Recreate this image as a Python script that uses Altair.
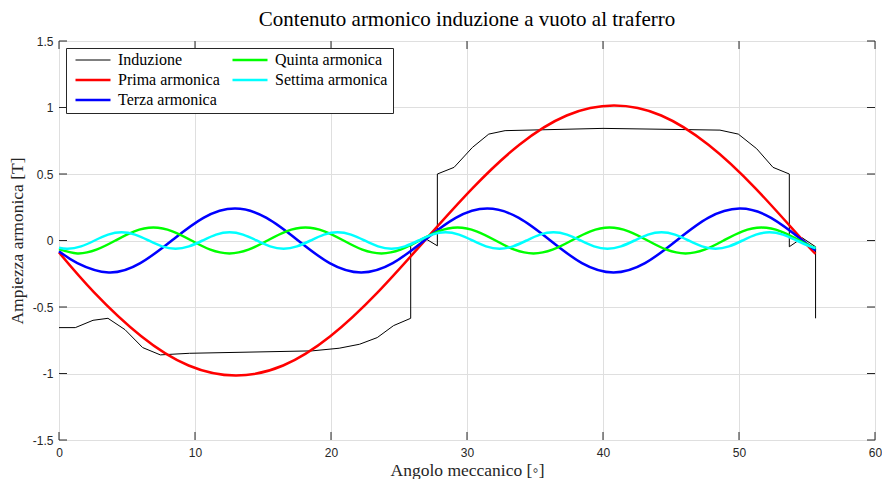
import altair as alt
import pandas as pd

# ---- data ----
ind_x = [0, 1.2, 2.5, 3.6, 4.85, 6.15, 7.45, 9.6, 18.6, 20.6, 22.1, 23.4, 24.6, 25.86, 25.86, 26.85,
         27.82, 27.82, 29.05, 30.4, 31.6, 32.8, 40.0, 48.6, 49.95, 51.3, 52.5, 53.7, 53.7, 54.65, 55.63, 55.63]
ind_y = [-0.655, -0.655, -0.60, -0.585, -0.67, -0.805, -0.86, -0.848, -0.83, -0.81, -0.78, -0.73, -0.64,
         -0.585, -0.04, 0.02, -0.04, 0.50, 0.55, 0.70, 0.80, 0.826, 0.843, 0.83, 0.80, 0.69, 0.55, 0.50,
         -0.047, 0.02, -0.047, -0.585]

red_x = [0, 2.58, 6.05, 9.53, 13.0, 16.48, 19.95, 23.43, 26.9, 30.38, 33.85, 37.33, 40.8, 44.28, 47.75,
         51.23, 54.7, 55.63]
red_y = [-0.09, -0.39, -0.72, -0.94, -1.015, -0.94, -0.72, -0.39, 0.0, 0.39, 0.72, 0.94, 1.015, 0.94, 0.72,
         0.39, 0.0, -0.1]

blue_x = [0, 1.35, 3.66, 5.98, 8.30, 10.62, 12.94, 15.26, 17.58, 19.90, 22.22, 24.54, 26.85, 29.17, 31.49,
          33.81, 36.13, 38.45, 40.77, 43.09, 45.41, 47.73, 50.04, 52.36, 54.68, 55.63]
blue_y = [-0.08, -0.17, -0.24, -0.17, 0.0, 0.17, 0.24, 0.17, 0.0, -0.17, -0.24, -0.17, 0.0, 0.17, 0.24,
          0.17, 0.0, -0.17, -0.24, -0.17, 0.0, 0.17, 0.24, 0.17, 0.0, -0.075]

green_x = [0, 1.35, 2.75, 4.15, 5.54, 6.94, 8.34, 9.74, 11.13, 12.53, 13.93, 15.33, 16.72, 18.12, 19.52,
           20.92, 22.31, 23.71, 25.11, 26.51, 27.90, 29.30, 30.70, 32.10, 33.49, 34.89, 36.29, 37.69, 39.08,
           40.48, 41.88, 43.28, 44.67, 46.07, 47.47, 48.87, 50.26, 51.66, 53.06, 54.46, 55.63]
green_y = [-0.065, -0.097, -0.069, 0.0, 0.069, 0.097, 0.069, 0.0, -0.069, -0.097, -0.069, 0.0, 0.069, 0.097,
           0.069, 0.0, -0.069, -0.097, -0.069, 0.0, 0.069, 0.097, 0.069, 0.0, -0.069, -0.097, -0.069, 0.0,
           0.069, 0.097, 0.069, 0.0, -0.069, -0.097, -0.069, 0.0, 0.069, 0.097, 0.069, 0.0, -0.06]

cyan_x = [0, 0.63, 1.62, 2.62, 3.61, 4.60, 5.59, 6.59, 7.58, 8.57, 9.56, 10.56, 11.55, 12.54, 13.53, 14.53,
          15.52, 16.51, 17.50, 18.50, 19.49, 20.48, 21.47, 22.47, 23.46, 24.45, 25.44, 26.44, 27.43, 28.42,
          29.41, 30.41, 31.40, 32.39, 33.38, 34.38, 35.37, 36.36, 37.35, 38.35, 39.34, 40.33, 41.32, 42.32,
          43.31, 44.30, 45.29, 46.29, 47.28, 48.27, 49.26, 50.26, 51.25, 52.24, 53.23, 54.23, 55.22, 55.63]
cyan_y = [-0.054,
          -0.062, -0.044, 0.0, 0.044, 0.062, 0.044, 0.0, -0.044,
          -0.062, -0.044, 0.0, 0.044, 0.062, 0.044, 0.0, -0.044,
          -0.062, -0.044, 0.0, 0.044, 0.062, 0.044, 0.0, -0.044,
          -0.062, -0.044, 0.0, 0.044, 0.062, 0.044, 0.0, -0.044,
          -0.062, -0.044, 0.0, 0.044, 0.062, 0.044, 0.0, -0.044,
          -0.062, -0.044, 0.0, 0.044, 0.062, 0.044, 0.0, -0.044,
          -0.062, -0.044, 0.0, 0.044, 0.062, 0.044, 0.0, -0.044,
          -0.056]

series_names = ["Induzione", "Prima armonica", "Terza armonica", "Quinta armonica", "Settima armonica"]
series_colors = ["#000000", "#ff0000", "#0000ff", "#00ff00", "#00ffff"]
series_widths = [1, 2.5, 2.5, 2.5, 2.5]

x_ticks = [0, 10, 20, 30, 40, 50, 60]
y_ticks = [-1.5, -1, -0.5, 0, 0.5, 1, 1.5]

W, H = 816, 399
SERIF = "Liberation Serif"
SANS = "Liberation Sans"
AX = "#262626"


def frame(name, xs, ys):
    return pd.DataFrame({"x": xs, "y": ys, "serie": name, "i": list(range(len(xs)))})


df = pd.concat([
    frame(series_names[0], ind_x, ind_y),
    frame(series_names[1], red_x, red_y),
    frame(series_names[2], blue_x, blue_y),
    frame(series_names[3], green_x, green_y),
    frame(series_names[4], cyan_x, cyan_y),
], ignore_index=True)

x_axis = alt.Axis(values=x_ticks, title="Angolo meccanico [◦]", ticks=False, domain=False,
                  grid=True, gridColor="#dfdfdf", labelFlush=False, labelOverlap=False,
                  labelFont=SANS, labelFontSize=12, labelColor=AX, labelPadding=7,
                  titleFont=SERIF, titleFontSize=17.5, titleFontWeight="normal", titleColor=AX,
                  titleY=30, titleBaseline="middle")
y_axis = alt.Axis(values=y_ticks, title="Ampiezza armonica [T]", ticks=False, domain=False,
                  grid=True, gridColor="#dfdfdf", labelFlush=False, labelOverlap=False,
                  labelExpr="toString(datum.value)",
                  labelFont=SANS, labelFontSize=12, labelColor=AX, labelPadding=6,
                  titleFont=SERIF, titleFontSize=17.5, titleFontWeight="normal", titleColor=AX,
                  titleX=-42, titleY=H / 2, titleAngle=-90, titleBaseline="middle")

x_enc = alt.X("x:Q", scale=alt.Scale(domain=[0, 60], nice=False, zero=False), axis=x_axis)
y_enc = alt.Y("y:Q", scale=alt.Scale(domain=[-1.5, 1.5], nice=False, zero=False), axis=y_axis)

leg = alt.Legend(title=None, orient="none", legendX=7, legendY=7, columns=2,
                 symbolType="stroke", symbolSize=1225, labelFont=SERIF, labelFontSize=16,
                 labelColor="black", labelOffset=6, padding=5, symbolOffset=3, clipHeight=14,
                 rowPadding=4, columnPadding=8, strokeColor=AX, fillColor="white",
                 cornerRadius=0, labelLimit=0)

color_enc = alt.Color("serie:N", scale=alt.Scale(domain=series_names, range=series_colors), legend=leg)
width_enc = alt.StrokeWidth("serie:N", scale=alt.Scale(type="ordinal", domain=series_names,
                                                       range=series_widths), legend=leg)

base = alt.Chart(df).encode(x=x_enc, y=y_enc, color=color_enc, strokeWidth=width_enc, order=alt.Order("i:Q"))

layers = []
for k, name in enumerate(series_names):
    interp = "linear" if k == 0 else "natural"
    layers.append(base.transform_filter(alt.datum.serie == name).mark_line(interpolate=interp))

xt = pd.DataFrame({"x": x_ticks})
yt = pd.DataFrame({"y": y_ticks})
tick_style = dict(color=AX, strokeWidth=1)
ticks = [
    alt.Chart(xt).mark_rule(**tick_style).encode(x=x_enc, y=alt.value(H), y2=alt.value(H - 8)),
    alt.Chart(xt).mark_rule(**tick_style).encode(x=x_enc, y=alt.value(0), y2=alt.value(8)),
    alt.Chart(yt).mark_rule(**tick_style).encode(y=y_enc, x=alt.value(0), x2=alt.value(8)),
    alt.Chart(yt).mark_rule(**tick_style).encode(y=y_enc, x=alt.value(W), x2=alt.value(W - 8)),
]

chart = alt.layer(*ticks, *layers).properties(
    width=W, height=H,
    title=alt.TitleParams(text="Contenuto armonico induzione a vuoto al traferro", font=SERIF,
                          fontSize=21, fontWeight="normal", color="black", anchor="middle", offset=5),
    autosize=alt.AutoSizeParams(type="none"),
    padding={"left": 59, "top": 41, "right": 7, "bottom": 39},
).configure_view(stroke=AX, strokeWidth=1).configure(background="white")

chart.save("out.html", embed_options={"renderer": "svg", "actions": False})
